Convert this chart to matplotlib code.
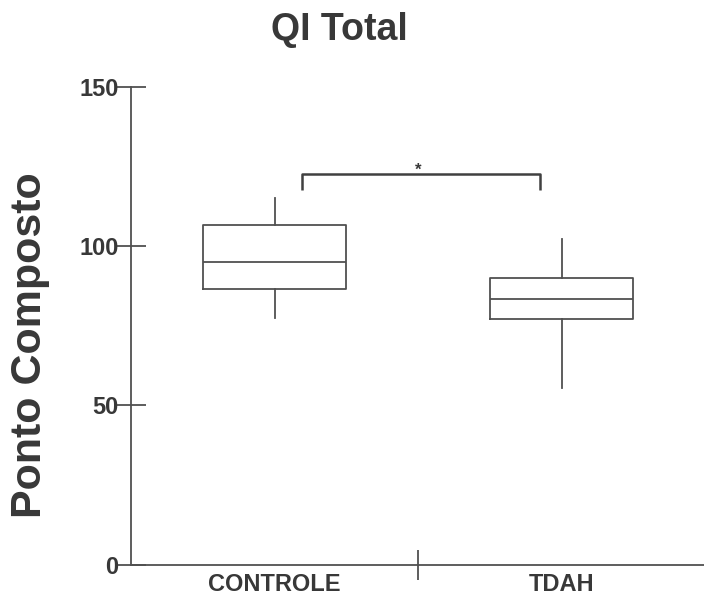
import matplotlib
matplotlib.use("Agg")
import matplotlib.pyplot as plt

categories = ["CONTROLE", "TDAH"]
whisker_low = [77.3, 55.5]
q1 = [86.7, 77.0]
median = [95.0, 83.3]
q3 = [106.6, 90.0]
whisker_high = [115.0, 102.4]
yticks = [0, 50, 100, 150]

bracket_x = [1.096, 1.925]
bracket_top = 122.8
bracket_end = 117.6
star_y = 124.0

plt.rcParams['font.family'] = ['Liberation Sans', 'DejaVu Sans']
plt.rcParams['font.weight'] = 'bold'
txt = '#383838'
line = '#505050'

fig = plt.figure(figsize=(7.04, 5.98), dpi=100)
ax = fig.add_axes([131/704, 1-564.5/598, 574/704, (564.5-87)/598])

stats = []
for i, c in enumerate(categories):
    stats.append(dict(label=c, whislo=whisker_low[i], q1=q1[i], med=median[i],
                      q3=q3[i], whishi=whisker_high[i], fliers=[]))
pos = list(range(1, len(categories)+1))
ax.bxp(stats, positions=pos, widths=0.5, showcaps=False, showfliers=False,
       boxprops=dict(color=line, linewidth=1.3),
       medianprops=dict(color=line, linewidth=1.3),
       whiskerprops=dict(color=line, linewidth=1.3))

ax.set_xlim(0.5, 2.5)
ax.set_ylim(0, 150)
ax.set_yticks(yticks)
ax.set_yticklabels([str(v) for v in yticks], fontsize=17, fontweight='bold', color=txt)
ax.set_xticks(pos)
ax.set_xticklabels(categories, fontsize=17, fontweight='bold', color=txt)
ax.tick_params(axis='x', length=0, pad=6)
ax.set_xticks([1.5], minor=True)
ax.tick_params(axis='x', which='minor', direction='inout', length=21, width=1.3, color=line)
ax.tick_params(axis='y', direction='inout', length=22, width=1.3, color=line, pad=-2)

for s in ['top', 'right']:
    ax.spines[s].set_visible(False)
for s in ['left', 'bottom']:
    ax.spines[s].set_color(line)
    ax.spines[s].set_linewidth(1.3)
ax.spines['bottom'].set_clip_on(False)

ax.plot([bracket_x[0], bracket_x[0], bracket_x[1], bracket_x[1]],
        [bracket_end, bracket_top, bracket_top, bracket_end],
        color='#404040', linewidth=1.8, solid_capstyle='butt')
ax.text((bracket_x[0]+bracket_x[1])/2 - 0.01, star_y, '*', ha='center', va='center',
        fontsize=12, fontweight='bold', color=txt)

fig.text(339/704, 1-30/598, 'QI Total', ha='center', va='center',
         fontsize=27, fontweight='bold', color=txt)
fig.text(30/704, 1-345/598, 'Ponto Composto', ha='center', va='center', rotation=90,
         fontsize=31, fontweight='bold', color=txt)

fig.savefig('out.png', dpi=100, facecolor='white')
